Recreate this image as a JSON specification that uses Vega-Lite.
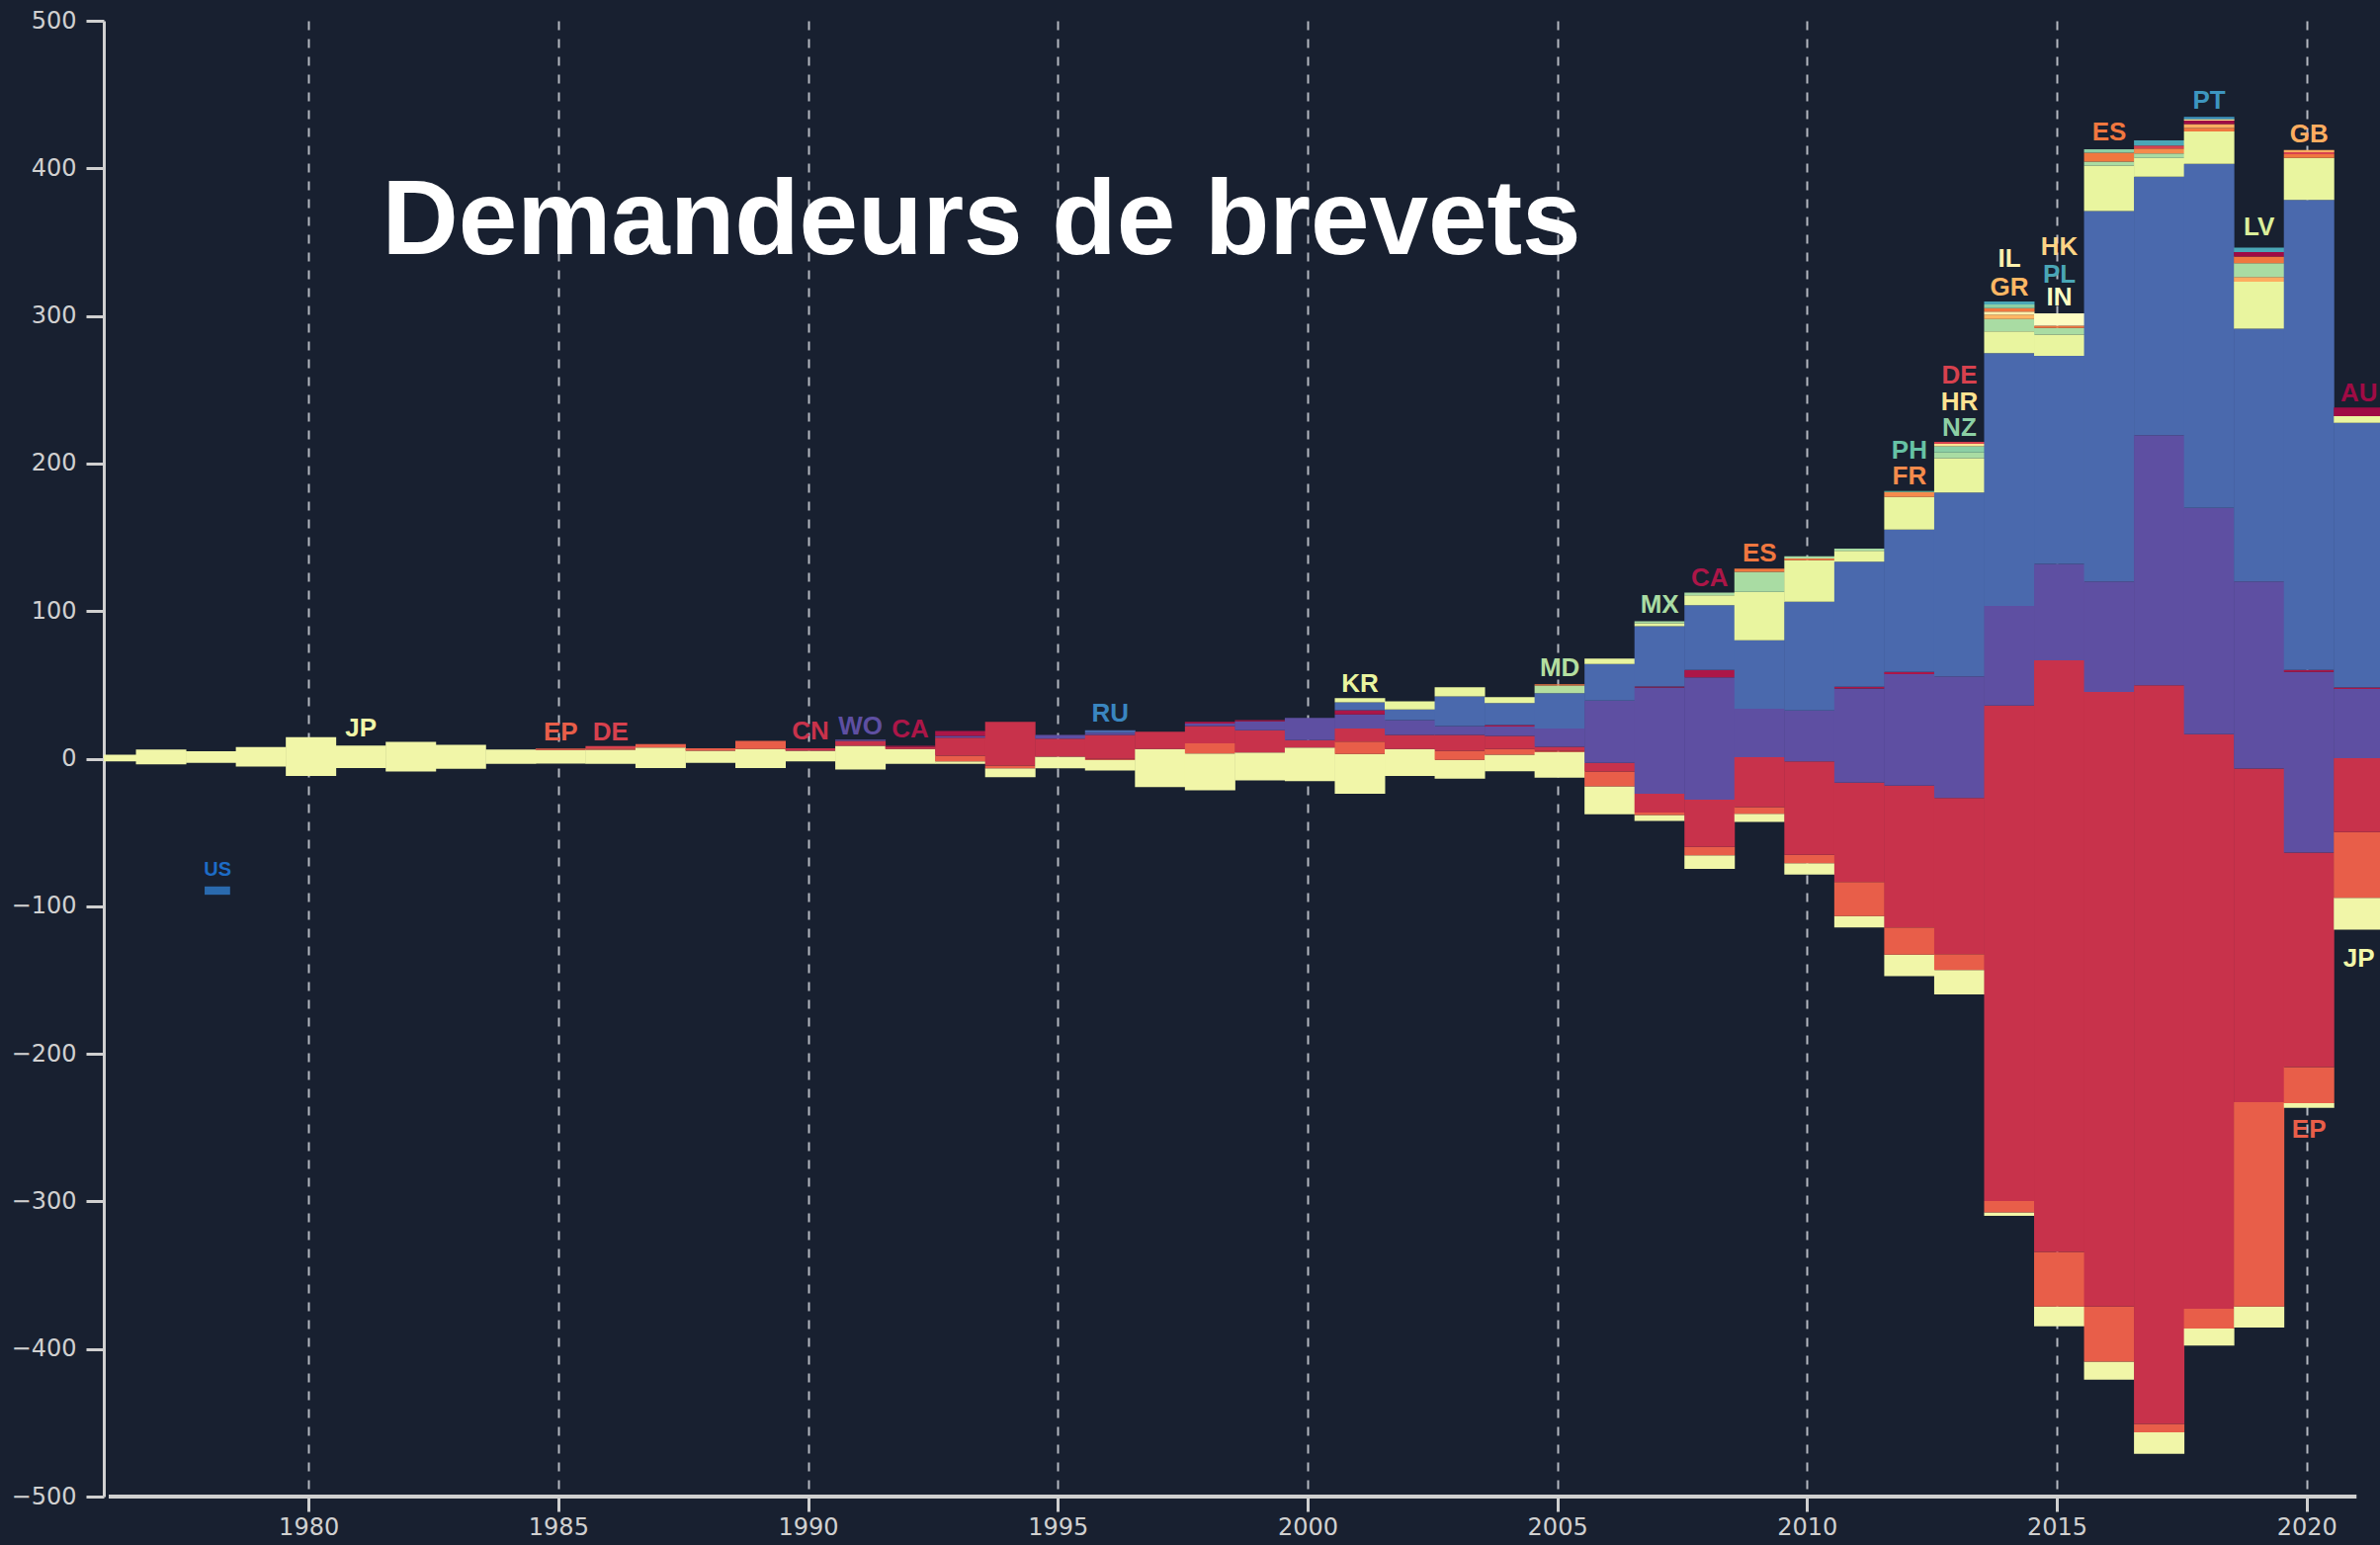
{
  "$schema": "https://vega.github.io/schema/vega-lite/v6.json",
  "width": 2303,
  "height": 1493,
  "autosize": {"type": "none"},
  "padding": {"left": 105, "top": 21, "right": 0, "bottom": 49},
  "background": "#182030",
  "config": {
    "view": {"stroke": null},
    "axis": {"labelFont": "DejaVu Sans", "labelFontSize": 24, "labelColor": "#d0d0d0", "domainColor": "#d0d0d0", "tickColor": "#d0d0d0", "domainWidth": 3, "tickWidth": 3}
  },
  "datasets": {
    "b": [
      {"y":1976,"c":"JP","lo":-1.8,"hi":2.7},
      {"y":1977,"c":"JP","lo":-3.8,"hi":6.2},
      {"y":1978,"c":"JP","lo":-2.9,"hi":5.1},
      {"y":1979,"c":"JP","lo":-5.4,"hi":7.8},
      {"y":1980,"c":"JP","lo":-11.8,"hi":14.5},
      {"y":1981,"c":"JP","lo":-6.3,"hi":8.9},
      {"y":1982,"c":"JP","lo":-8.7,"hi":11.4},
      {"y":1983,"c":"JP","lo":-6.9,"hi":9.4},
      {"y":1984,"c":"JP","lo":-3.6,"hi":6.2},
      {"y":1985,"c":"JP","lo":-3.3,"hi":5.8},{"y":1985,"c":"EP","lo":5.8,"hi":6.9},
      {"y":1986,"c":"JP","lo":-3.6,"hi":6.0},{"y":1986,"c":"EP","lo":6.0,"hi":6.9},{"y":1986,"c":"DE","lo":6.9,"hi":8.6},
      {"y":1987,"c":"JP","lo":-6.3,"hi":7.6},{"y":1987,"c":"EP","lo":7.6,"hi":9.8},
      {"y":1988,"c":"JP","lo":-2.9,"hi":5.4},{"y":1988,"c":"EP","lo":5.4,"hi":7.1},
      {"y":1989,"c":"JP","lo":-6.3,"hi":6.5},{"y":1989,"c":"EP","lo":6.5,"hi":12.1},
      {"y":1990,"c":"JP","lo":-1.8,"hi":5.4},{"y":1990,"c":"CN","lo":5.4,"hi":7.1},
      {"y":1991,"c":"JP","lo":-7.4,"hi":8.7},{"y":1991,"c":"CN","lo":8.7,"hi":12.1},{"y":1991,"c":"WO","lo":12.1,"hi":12.9},
      {"y":1992,"c":"JP","lo":-3.6,"hi":6.5},{"y":1992,"c":"CN","lo":6.5,"hi":7.8},{"y":1992,"c":"CA","lo":7.8,"hi":8.7},
      {"y":1993,"c":"JP","lo":-3.6,"hi":-1.8},{"y":1993,"c":"EP","lo":-1.8,"hi":2.0},{"y":1993,"c":"CN","lo":2.0,"hi":14.3},{"y":1993,"c":"WO","lo":14.3,"hi":15.4},{"y":1993,"c":"CA","lo":15.4,"hi":18.8},
      {"y":1994,"c":"JP","lo":-12.5,"hi":-6.5},{"y":1994,"c":"EP","lo":-6.5,"hi":-4.7},{"y":1994,"c":"CN","lo":-4.7,"hi":25.0},
      {"y":1995,"c":"JP","lo":-6.5,"hi":1.3},{"y":1995,"c":"CN","lo":1.3,"hi":13.6},{"y":1995,"c":"WO","lo":13.6,"hi":16.1},
      {"y":1996,"c":"JP","lo":-8.0,"hi":-0.9},{"y":1996,"c":"EP","lo":-0.9,"hi":-0.2},{"y":1996,"c":"CN","lo":-0.2,"hi":16.1},{"y":1996,"c":"WO","lo":16.1,"hi":17.6},{"y":1996,"c":"US","lo":17.6,"hi":19.2},
      {"y":1997,"c":"JP","lo":-19.2,"hi":6.5},{"y":1997,"c":"CN","lo":6.5,"hi":18.3},
      {"y":1998,"c":"JP","lo":-21.4,"hi":3.6},{"y":1998,"c":"EP","lo":3.6,"hi":10.3},{"y":1998,"c":"CN","lo":10.3,"hi":22.1},{"y":1998,"c":"WO","lo":22.1,"hi":23.7},{"y":1998,"c":"CA","lo":23.7,"hi":25.0},
      {"y":1999,"c":"JP","lo":-14.7,"hi":4.2},{"y":1999,"c":"CN","lo":4.2,"hi":19.2},{"y":1999,"c":"WO","lo":19.2,"hi":25.3},{"y":1999,"c":"CA","lo":25.3,"hi":26.1},
      {"y":2000,"c":"JP","lo":-15.2,"hi":7.6},{"y":2000,"c":"CN","lo":7.6,"hi":12.5},{"y":2000,"c":"WO","lo":12.5,"hi":27.7},
      {"y":2001,"c":"JP","lo":-23.7,"hi":3.1},{"y":2001,"c":"EP","lo":3.1,"hi":11.6},{"y":2001,"c":"CN","lo":11.6,"hi":20.5},{"y":2001,"c":"WO","lo":20.5,"hi":29.9},{"y":2001,"c":"CA","lo":29.9,"hi":32.8},{"y":2001,"c":"US","lo":32.8,"hi":38.2},{"y":2001,"c":"KR","lo":38.2,"hi":41.1},
      {"y":2002,"c":"JP","lo":-11.8,"hi":6.5},{"y":2002,"c":"CN","lo":6.5,"hi":16.1},{"y":2002,"c":"WO","lo":16.1,"hi":26.1},{"y":2002,"c":"US","lo":26.1,"hi":33.3},{"y":2002,"c":"KR","lo":33.3,"hi":38.8},
      {"y":2003,"c":"JP","lo":-13.6,"hi":-0.9},{"y":2003,"c":"EP","lo":-0.9,"hi":5.4},{"y":2003,"c":"CN","lo":5.4,"hi":16.1},{"y":2003,"c":"WO","lo":16.1,"hi":22.1},{"y":2003,"c":"US","lo":22.1,"hi":42.2},{"y":2003,"c":"KR","lo":42.2,"hi":48.4},
      {"y":2004,"c":"JP","lo":-8.5,"hi":2.7},{"y":2004,"c":"EP","lo":2.7,"hi":6.5},{"y":2004,"c":"CN","lo":6.5,"hi":15.4},{"y":2004,"c":"WO","lo":15.4,"hi":21.7},{"y":2004,"c":"CA","lo":21.7,"hi":22.8},{"y":2004,"c":"US","lo":22.8,"hi":37.7},{"y":2004,"c":"KR","lo":37.7,"hi":41.7},
      {"y":2005,"c":"JP","lo":-12.9,"hi":4.6},{"y":2005,"c":"EP","lo":4.6,"hi":5.4},{"y":2005,"c":"CN","lo":5.4,"hi":8.0},{"y":2005,"c":"WO","lo":8.0,"hi":20.5},{"y":2005,"c":"US","lo":20.5,"hi":44.4},{"y":2005,"c":"MD","lo":44.4,"hi":49.6},{"y":2005,"c":"ES","lo":49.6,"hi":50.4},
      {"y":2006,"c":"JP","lo":-37.7,"hi":-18.8},{"y":2006,"c":"EP","lo":-18.8,"hi":-8.7},{"y":2006,"c":"CN","lo":-8.7,"hi":-2.9},{"y":2006,"c":"WO","lo":-2.9,"hi":39.3},{"y":2006,"c":"US","lo":39.3,"hi":64.1},{"y":2006,"c":"KR","lo":64.1,"hi":67.9},
      {"y":2007,"c":"JP","lo":-42.2,"hi":-38.2},{"y":2007,"c":"EP","lo":-38.2,"hi":-36.5},{"y":2007,"c":"CN","lo":-36.5,"hi":-23.8},{"y":2007,"c":"WO","lo":-23.8,"hi":48.2},{"y":2007,"c":"CA","lo":48.2,"hi":48.9},{"y":2007,"c":"US","lo":48.9,"hi":89.8},{"y":2007,"c":"KR","lo":89.8,"hi":91.8},{"y":2007,"c":"MX","lo":91.8,"hi":93.1},
      {"y":2008,"c":"JP","lo":-74.7,"hi":-65.5},{"y":2008,"c":"EP","lo":-65.5,"hi":-59.7},{"y":2008,"c":"CN","lo":-59.7,"hi":-27.8},{"y":2008,"c":"WO","lo":-27.8,"hi":55.1},{"y":2008,"c":"CA","lo":55.1,"hi":60.1},{"y":2008,"c":"US","lo":60.1,"hi":104.0},{"y":2008,"c":"KR","lo":104.0,"hi":110.7},{"y":2008,"c":"MX","lo":110.7,"hi":112.5},
      {"y":2009,"c":"JP","lo":-42.8,"hi":-37.4},{"y":2009,"c":"EP","lo":-37.4,"hi":-32.8},{"y":2009,"c":"CN","lo":-32.8,"hi":1.0},{"y":2009,"c":"WO","lo":1.0,"hi":33.9},{"y":2009,"c":"US","lo":33.9,"hi":80.2},{"y":2009,"c":"KR","lo":80.2,"hi":113.0},{"y":2009,"c":"MX","lo":113.0,"hi":126.6},{"y":2009,"c":"ES","lo":126.6,"hi":128.8},
      {"y":2010,"c":"JP","lo":-78.6,"hi":-70.9},{"y":2010,"c":"EP","lo":-70.9,"hi":-65.1},{"y":2010,"c":"CN","lo":-65.1,"hi":-1.8},{"y":2010,"c":"WO","lo":-1.8,"hi":32.6},{"y":2010,"c":"US","lo":32.6,"hi":106.3},{"y":2010,"c":"KR","lo":106.3,"hi":134.4},{"y":2010,"c":"ES","lo":134.4,"hi":135.6},{"y":2010,"c":"MX","lo":135.6,"hi":137.2},
      {"y":2011,"c":"JP","lo":-114.3,"hi":-106.6},{"y":2011,"c":"EP","lo":-106.6,"hi":-83.6},{"y":2011,"c":"CN","lo":-83.6,"hi":-16.3},{"y":2011,"c":"WO","lo":-16.3,"hi":47.6},{"y":2011,"c":"CA","lo":47.6,"hi":48.8},{"y":2011,"c":"US","lo":48.8,"hi":133.4},{"y":2011,"c":"KR","lo":133.4,"hi":140.9},{"y":2011,"c":"MX","lo":140.9,"hi":142.4},
      {"y":2012,"c":"JP","lo":-147.4,"hi":-132.8},{"y":2012,"c":"EP","lo":-132.8,"hi":-114.3},{"y":2012,"c":"CN","lo":-114.3,"hi":-18.2},{"y":2012,"c":"WO","lo":-18.2,"hi":57.2},{"y":2012,"c":"CA","lo":57.2,"hi":58.7},{"y":2012,"c":"US","lo":58.7,"hi":155.2},{"y":2012,"c":"KR","lo":155.2,"hi":177.4},{"y":2012,"c":"FR","lo":177.4,"hi":180.6},{"y":2012,"c":"PH","lo":180.6,"hi":181.4},
      {"y":2013,"c":"JP","lo":-159.7,"hi":-143.2},{"y":2013,"c":"EP","lo":-143.2,"hi":-132.4},{"y":2013,"c":"CN","lo":-132.4,"hi":-26.7},{"y":2013,"c":"WO","lo":-26.7,"hi":55.7},{"y":2013,"c":"US","lo":55.7,"hi":180.3},{"y":2013,"c":"KR","lo":180.3,"hi":203.7},{"y":2013,"c":"MX","lo":203.7,"hi":207.5},{"y":2013,"c":"NZ","lo":207.5,"hi":211.7},{"y":2013,"c":"HR","lo":211.7,"hi":213.4},{"y":2013,"c":"DE","lo":213.4,"hi":214.7},
      {"y":2014,"c":"JP","lo":-309.7,"hi":-307.4},{"y":2014,"c":"EP","lo":-307.4,"hi":-299.7},{"y":2014,"c":"CN","lo":-299.7,"hi":36.0},{"y":2014,"c":"WO","lo":36.0,"hi":103.5},{"y":2014,"c":"US","lo":103.5,"hi":274.8},{"y":2014,"c":"KR","lo":274.8,"hi":289.5},{"y":2014,"c":"MX","lo":289.5,"hi":297.9},{"y":2014,"c":"GR","lo":297.9,"hi":300.9},{"y":2014,"c":"IL","lo":300.9,"hi":302.9},{"y":2014,"c":"ES","lo":302.9,"hi":305.3},{"y":2014,"c":"NZ","lo":305.3,"hi":307.7},{"y":2014,"c":"PL","lo":307.7,"hi":309.8},
      {"y":2015,"c":"JP","lo":-384.7,"hi":-371.2},{"y":2015,"c":"EP","lo":-371.2,"hi":-334.2},{"y":2015,"c":"CN","lo":-334.2,"hi":66.7},{"y":2015,"c":"WO","lo":66.7,"hi":131.9},{"y":2015,"c":"US","lo":131.9,"hi":273.0},{"y":2015,"c":"KR","lo":273.0,"hi":287.4},{"y":2015,"c":"MX","lo":287.4,"hi":291.9},{"y":2015,"c":"ES","lo":291.9,"hi":293.4},{"y":2015,"c":"IN","lo":293.4,"hi":301.7},
      {"y":2016,"c":"JP","lo":-420.8,"hi":-408.5},{"y":2016,"c":"EP","lo":-408.5,"hi":-371.2},{"y":2016,"c":"CN","lo":-371.2,"hi":45.2},{"y":2016,"c":"WO","lo":45.2,"hi":120.0},{"y":2016,"c":"US","lo":120.0,"hi":371.1},{"y":2016,"c":"KR","lo":371.1,"hi":401.9},{"y":2016,"c":"MX","lo":401.9,"hi":404.6},{"y":2016,"c":"ES","lo":404.6,"hi":410.6},{"y":2016,"c":"NZ","lo":410.6,"hi":413.0},
      {"y":2017,"c":"JP","lo":-471.1,"hi":-456.5},{"y":2017,"c":"EP","lo":-456.5,"hi":-450.8},{"y":2017,"c":"CN","lo":-450.8,"hi":49.7},{"y":2017,"c":"WO","lo":49.7,"hi":219.2},{"y":2017,"c":"US","lo":219.2,"hi":394.4},{"y":2017,"c":"KR","lo":394.4,"hi":407.0},{"y":2017,"c":"MX","lo":407.0,"hi":410.0},{"y":2017,"c":"FR","lo":410.0,"hi":413.5},{"y":2017,"c":"DE","lo":413.5,"hi":415.5},{"y":2017,"c":"PL","lo":415.5,"hi":419.0},
      {"y":2018,"c":"JP","lo":-397.7,"hi":-386.2},{"y":2018,"c":"EP","lo":-386.2,"hi":-372.7},{"y":2018,"c":"CN","lo":-372.7,"hi":16.6},{"y":2018,"c":"WO","lo":16.6,"hi":169.9},{"y":2018,"c":"US","lo":169.9,"hi":403.1},{"y":2018,"c":"KR","lo":403.1,"hi":424.9},{"y":2018,"c":"ES","lo":424.9,"hi":427.3},{"y":2018,"c":"GB","lo":427.3,"hi":430.0},{"y":2018,"c":"AU","lo":430.0,"hi":432.4},{"y":2018,"c":"HR","lo":432.4,"hi":433.3},{"y":2018,"c":"PT","lo":433.3,"hi":434.8},
      {"y":2019,"c":"JP","lo":-385.4,"hi":-371.2},{"y":2019,"c":"EP","lo":-371.2,"hi":-232.8},{"y":2019,"c":"CN","lo":-232.8,"hi":-6.7},{"y":2019,"c":"WO","lo":-6.7,"hi":120.0},{"y":2019,"c":"US","lo":120.0,"hi":291.3},{"y":2019,"c":"KR","lo":291.3,"hi":323.2},{"y":2019,"c":"GB","lo":323.2,"hi":326.3},{"y":2019,"c":"MX","lo":326.3,"hi":335.8},{"y":2019,"c":"ES","lo":335.8,"hi":340.3},{"y":2019,"c":"AU","lo":340.3,"hi":343.3},{"y":2019,"c":"PL","lo":343.3,"hi":346.3},
      {"y":2020,"c":"JP","lo":-236.6,"hi":-233.5},{"y":2020,"c":"EP","lo":-233.5,"hi":-208.9},{"y":2020,"c":"CN","lo":-208.9,"hi":-63.6},{"y":2020,"c":"WO","lo":-63.6,"hi":58.7},{"y":2020,"c":"CA","lo":58.7,"hi":60.1},{"y":2020,"c":"US","lo":60.1,"hi":378.6},{"y":2020,"c":"KR","lo":378.6,"hi":407.0},{"y":2020,"c":"ES","lo":407.0,"hi":409.5},{"y":2020,"c":"DE","lo":409.5,"hi":411.0},{"y":2020,"c":"GB","lo":411.0,"hi":412.4},
      {"y":2021,"c":"JP","lo":-115.9,"hi":-94.3},{"y":2021,"c":"EP","lo":-94.3,"hi":-49.7},{"y":2021,"c":"CN","lo":-49.7,"hi":0.3},{"y":2021,"c":"WO","lo":0.3,"hi":47.2},{"y":2021,"c":"CA","lo":47.2,"hi":48.2},{"y":2021,"c":"US","lo":48.2,"hi":227.6},{"y":2021,"c":"KR","lo":227.6,"hi":232.1},{"y":2021,"c":"AU","lo":232.1,"hi":238.0}
    ],
    "l": [
      {"y":1981,"v":15.4,"c":"JP"},{"y":1985,"v":12.5,"c":"EP"},{"y":1986,"v":12.5,"c":"DE"},
      {"y":1990,"v":13.2,"c":"CN"},{"y":1991,"v":16.1,"c":"WO"},{"y":1992,"v":14.3,"c":"CA"},
      {"y":1996,"v":24.8,"c":"RU"},{"y":2001,"v":45.5,"c":"KR"},{"y":2005,"v":55.6,"c":"MD"},
      {"y":2007,"v":99.1,"c":"MX"},{"y":2008,"v":117.0,"c":"CA"},{"y":2009,"v":133.7,"c":"ES"},
      {"y":2012,"v":203.6,"c":"PH"},{"y":2012,"v":185.7,"c":"FR"},
      {"y":2013,"v":253.9,"c":"DE"},{"y":2013,"v":236.0,"c":"HR"},{"y":2013,"v":218.6,"c":"NZ"},
      {"y":2014,"v":333.2,"c":"IL"},{"y":2014,"v":313.7,"c":"GR"},
      {"y":2015,"v":341.2,"c":"HK"},{"y":2015,"v":322.4,"c":"PL"},{"y":2015,"v":306.8,"c":"IN"},
      {"y":2016,"v":419.0,"c":"ES"},{"y":2018,"v":440.5,"c":"PT"},{"y":2019,"v":354.7,"c":"LV"},
      {"y":2020,"v":417.5,"c":"GB"},{"y":2021,"v":241.8,"c":"AU"},{"y":2021,"v":-140.7,"c":"JP"},
      {"y":2020,"v":-257.2,"c":"EP"}
    ]
  },
  "layer": [
    {
      "data": {"name": "b"},
      "mark": {"type": "bar", "width": 51, "clip": true, "xOffset": 2.5},
      "encoding": {
        "x": {"field": "y", "type": "quantitative", "title": null,
              "scale": {"domain": [1976, 2021.371], "nice": false, "zero": false},
              "axis": {"values": [1980,1985,1990,1995,2000,2005,2010,2015,2020], "format": "d", "grid": true, "gridDash": [9,9], "gridColor": "#b4b8c0", "gridWidth": 2, "domain": false, "tickSize": 15, "labelPadding": 4, "labelFlush": false}},
        "y": {"field": "lo", "type": "quantitative", "title": null,
              "scale": {"domain": [-500, 500], "nice": false, "zero": false},
              "axis": {"values": [-500,-400,-300,-200,-100,0,100,200,300,400,500], "grid": false, "tickSize": 18, "labelPadding": 10}},
        "y2": {"field": "hi"},
        "color": {"field": "c", "type": "nominal", "legend": null,
          "scale": {
            "domain": ["JP","EP","DE","CN","CA","WO","US","RU","KR","MD","MX","ES","PH","FR","HR","NZ","IL","GR","HK","PL","IN","PT","LV","GB","AU"],
            "range": ["#f1f6a8","#e85e49","#d7414e","#c8324b","#ac1648","#5e4fa2","#4a69ad","#3a86c0","#e9f59f","#b4de9f","#a9dca3","#f0773f","#66c2a5","#f58b4c","#fee391","#8ccfa5","#fff1ae","#fdb764","#fdd485","#4aa6b6","#fdfdc3","#3d96c0","#dbef9b","#fdad60","#9f0b45"]
          }}
      }
    },
    {
      "data": {"values": [{"x0": 1977.92, "x1": 1978.43, "lo": -92.2, "hi": -86.6}]},
      "mark": {"type": "rect", "color": "#2a6aae"},
      "encoding": {
        "x": {"field": "x0", "type": "quantitative", "title": null},
        "x2": {"field": "x1"},
        "y": {"field": "lo", "type": "quantitative", "title": null},
        "y2": {"field": "hi"}
      }
    },
    {
      "data": {"values": [{}]},
      "mark": {"type": "rule", "color": "#d0d0d0", "strokeWidth": 4},
      "encoding": {"x": {"datum": 1976}, "x2": {"datum": 2021}, "y": {"datum": -500}}
    },
    {
      "data": {"name": "l"},
      "mark": {"type": "text", "font": "Liberation Sans", "fontWeight": "bold", "fontSize": 26, "align": "center", "baseline": "alphabetic", "xOffset": 2.5},
      "encoding": {
        "x": {"field": "y", "type": "quantitative", "title": null},
        "y": {"field": "v", "type": "quantitative", "title": null},
        "text": {"field": "c"},
        "color": {"field": "c", "type": "nominal", "legend": null}
      }
    },
    {
      "data": {"values": [{"y": 1978.18, "v": -79.7, "t": "US"}]},
      "mark": {"type": "text", "font": "Liberation Sans", "fontWeight": "bold", "fontSize": 20, "align": "center", "baseline": "alphabetic", "color": "#1d6cc6"},
      "encoding": {
        "x": {"field": "y", "type": "quantitative", "title": null},
        "y": {"field": "v", "type": "quantitative", "title": null},
        "text": {"field": "t"}
      }
    },
    {
      "data": {"values": [{}]},
      "mark": {"type": "text", "text": "Demandeurs de brevets", "font": "Liberation Sans", "fontWeight": "bold", "fontSize": 107, "color": "#ffffff", "align": "left", "baseline": "alphabetic"},
      "encoding": {"x": {"datum": 1981.47}, "y": {"datum": 341.6}}
    }
  ]
}
